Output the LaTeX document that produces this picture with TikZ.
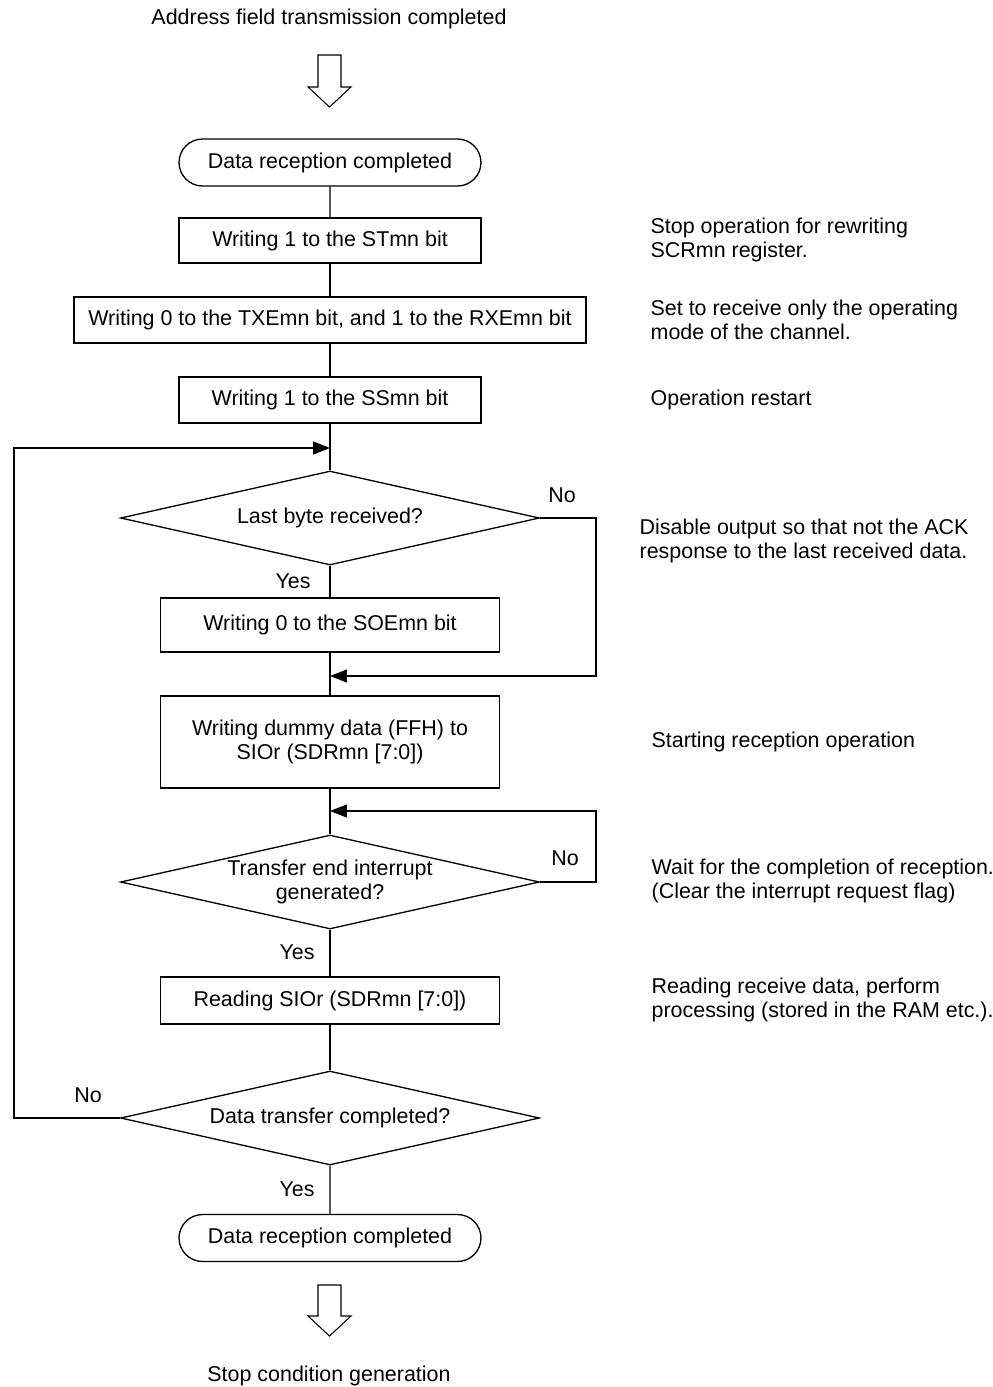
\documentclass[tikz,border=0pt]{standalone}
\usepackage{fontspec}
\setmainfont{Liberation Sans}
\usetikzlibrary{arrows.meta,positioning,shapes.geometric,shapes.misc}

\begin{document}
\begin{tikzpicture}[x=0.02cm,y=-0.02cm,
  font=\fontsize{12.2}{13.7}\selectfont,
  line width=0.75pt,
  term/.style={draw,rounded rectangle,minimum width=6.04cm,minimum height=0.94cm,inner sep=0pt},
  proc/.style={draw,rectangle,minimum width=6.78cm,minimum height=0.94cm,inner sep=0pt,align=center},
  decide/.style={draw,diamond,minimum width=8.38cm,minimum height=1.88cm,inner sep=0pt},
  note/.style={anchor=west,align=left,inner xsep=0pt},
  flow/.style={-{Triangle[length=0.34cm,width=0.26cm]}}]
\useasboundingbox (0,0) rectangle (993,1387);

% start
\node (start) at (329,19) {Address field transmission completed};
\draw[line width=0.6pt] (318,55) -- (341,55) -- (341,87) -- (351,87) -- (329.5,107)
  -- (308,87) -- (318,87) -- cycle;

% flow
\node[term] (t1) at (330,162.5) {Data reception completed};
\node[proc,minimum width=6.04cm,minimum height=0.9cm] (st) at (330,240.5) {Writing 1 to the STmn bit};
\node[proc,minimum width=10.24cm,minimum height=0.92cm] (txe) at (330,320) {Writing 0 to the TXEmn bit, and 1 to the RXEmn bit};
\node[proc,minimum width=6.04cm,minimum height=0.92cm] (ss) at (330,400) {Writing 1 to the SSmn bit};
\node[decide,label={center:Last byte received?}] (q1) at (330,518) {};
\node[proc,minimum height=1.08cm] (soe) at (330,625) {Writing 0 to the SOEmn bit};
\node[proc,minimum height=1.84cm] (dummy) at (330,742) {Writing dummy data (FFH) to\\SIOr (SDRmn [7:0])};
\node[decide,label={[align=center]center:Transfer end interrupt\\generated?}] (q2) at (330,882) {};
\node[proc] (rd) at (330,1000.5) {Reading SIOr (SDRmn [7:0])};
\node[decide,label={center:Data transfer completed?}] (q3) at (330,1118) {};
\node[term] (t2) at (330,1238) {Data reception completed};

% end
\draw[line width=0.6pt] (318,1285) -- (341,1285) -- (341,1316) -- (351,1316) -- (329.5,1336)
  -- (308,1316) -- (318,1316) -- cycle;
\node (stop) at (329,1376) {Stop condition generation};

\coordinate (j1) at (330,448);
\coordinate (l1) at (14,448);
\coordinate (j2) at (330,676);
\coordinate (r2) at (596,676);
\coordinate (j3) at (330,811);
\coordinate (r3) at (596,811);

\draw (t1) -- (st);
\draw (st) -- (txe);
\draw (txe) -- (ss);
\draw (ss) -- (q1);
\draw (q1) -- (soe);
\draw (soe) -- (dummy);
\draw (dummy) -- (q2);
\draw (q2) -- (rd);
\draw (rd) -- (q3);
\draw (q3) -- (t2);

\draw[flow] (q1.east) -| (r2) -- (j2);
\draw[flow] (q2.east) -| (r3) -- (j3);
\draw[flow] (q3.west) -| (l1) -- (j1);

% yes / no
\node (n1) at (562,495) {No};
\node (y1) at (293,581) {Yes};
\node (n2) at (565,858) {No};
\node (y2) at (297,952) {Yes};
\node (n3) at (88,1095) {No};
\node (y3) at (297,1189) {Yes};

% notes
\node[note] (c1) at (650,240) {Stop operation for rewriting\\SCRmn register.};
\node[note] (c2) at (650,320) {Set to receive only the operating\\mode of the channel.};
\node[note] (c3) at (650,400) {Operation restart};
\node[note] (c4) at (639,541) {Disable output so that not the ACK\\response to the last received data.};
\node[note] (c5) at (651,742) {Starting reception operation};
\node[note] (c6) at (651,881) {Wait for the completion of reception.\\(Clear the interrupt request flag)};
\node[note] (c7) at (651,1000) {Reading receive data, perform\\processing (stored in the RAM etc.).};
\end{tikzpicture}
\end{document}
